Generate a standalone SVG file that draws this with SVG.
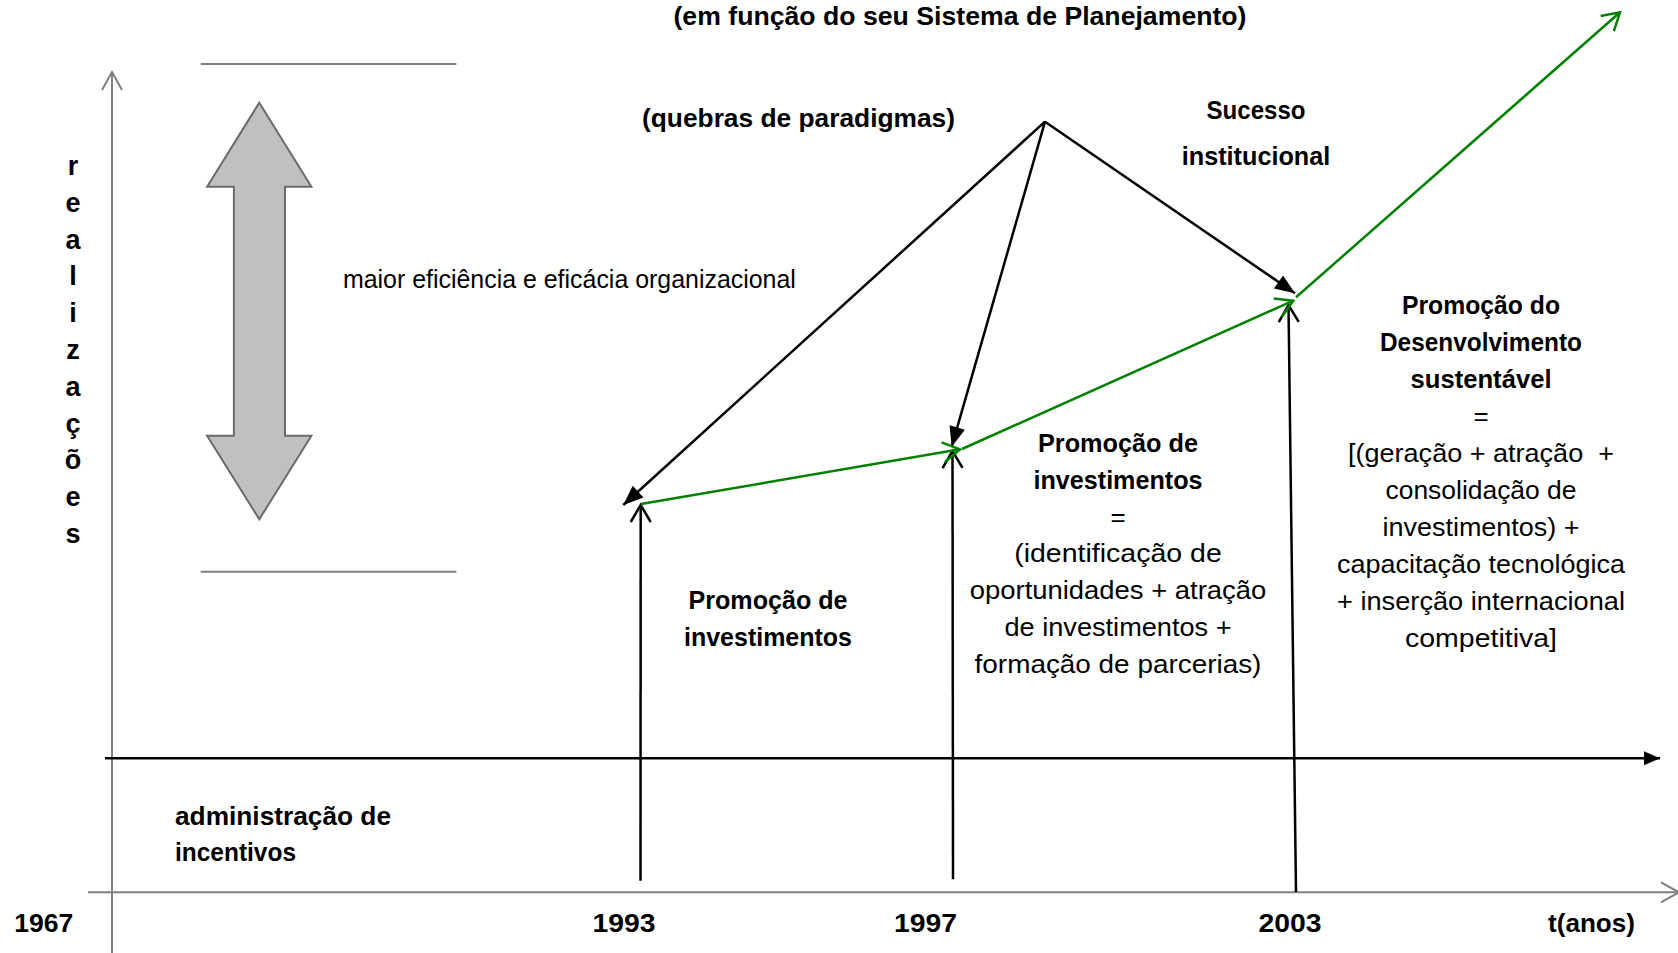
<svg xmlns="http://www.w3.org/2000/svg" width="1678" height="953" viewBox="0 0 1678 953">
<style>
text{font-family:"Liberation Sans",Arial,sans-serif;fill:#000}
.b{font-weight:bold;font-size:25px}
.r{font-size:26px}
.c{text-anchor:middle}
.v{font-weight:bold;font-size:27px;text-anchor:middle}
.gl{stroke:#7f7f7f;stroke-width:2;fill:none}
.bl{stroke:#000;stroke-width:2.5;fill:none}
.gr{stroke:#008000;stroke-width:2.5;fill:none}
</style>
<defs>
<marker id="fb" markerUnits="userSpaceOnUse" markerWidth="22" markerHeight="18" refX="20" refY="8" orient="auto" overflow="visible"><path d="M0,0 L20,8 L0,16 z" fill="#000"/></marker>
<marker id="fa" markerUnits="userSpaceOnUse" markerWidth="18" markerHeight="16" refX="16" refY="7" orient="auto" overflow="visible"><path d="M0,0 L16,7 L0,14 z" fill="#000"/></marker>
<marker id="ob" markerUnits="userSpaceOnUse" markerWidth="20" markerHeight="22" refX="17" refY="10" orient="auto" overflow="visible"><path d="M0,0 L17,10 L0,20" fill="none" stroke="#000" stroke-width="2.5"/></marker>
<marker id="og" markerUnits="userSpaceOnUse" markerWidth="20" markerHeight="22" refX="17" refY="10" orient="auto" overflow="visible"><path d="M0,0 L17,10 L0,20" fill="none" stroke="#008000" stroke-width="2.5"/></marker>
<marker id="oy" markerUnits="userSpaceOnUse" markerWidth="20" markerHeight="22" refX="18" refY="10" orient="auto" overflow="visible"><path d="M0,0 L18,10 L0,20" fill="none" stroke="#7f7f7f" stroke-width="2"/></marker>
</defs>
<rect width="1678" height="953" fill="#fff"/>

<g id="axes">
<line class="gl" x1="112" y1="953" x2="112" y2="72" marker-end="url(#oy)"/>
<line class="gl" x1="88" y1="892.3" x2="1679" y2="892.3" marker-end="url(#oy)"/>
<line class="bl" x1="105" y1="758.3" x2="1660" y2="758.3" marker-end="url(#fa)"/>
</g>

<g id="eficiencia">
<line class="gl" x1="200.7" y1="64" x2="456.4" y2="64"/>
<line class="gl" x1="200.7" y1="571.7" x2="456.4" y2="571.7"/>
<polygon points="259.3,102.7 311.4,186.7 285,186.7 285,435.7 311.4,435.7 259.3,519.3 207.1,435.7 233.9,435.7 233.9,186.7 207.1,186.7" fill="#c0c0c0" stroke="#6b6b6b" stroke-width="2"/>
<text class="r" x="342.9" y="288" font-size="23" textLength="453" lengthAdjust="spacingAndGlyphs">maior eficiência e eficácia organizacional</text>
</g>

<g id="eixo-realizacoes">
<text class="v" x="73" y="175">r</text>
<text class="v" x="73" y="211.8">e</text>
<text class="v" x="73" y="248.6">a</text>
<text class="v" x="73" y="285.4">l</text>
<text class="v" x="73" y="322.2">i</text>
<text class="v" x="73" y="359">z</text>
<text class="v" x="73" y="395.8">a</text>
<text class="v" x="73" y="432.6">ç</text>
<text class="v" x="73" y="469.4">õ</text>
<text class="v" x="73" y="506.2">e</text>
<text class="v" x="73" y="543">s</text>
</g>

<g id="connectors">
<line class="bl" x1="1045" y1="121.7" x2="623.3" y2="505" marker-end="url(#fb)"/>
<line class="bl" x1="1045" y1="121.7" x2="951.7" y2="446.7" marker-end="url(#fb)"/>
<line class="bl" x1="1045" y1="121.7" x2="1295" y2="293.3" marker-end="url(#fb)"/>
<line class="bl" x1="640.5" y1="880.7" x2="640.7" y2="505" marker-end="url(#ob)"/>
<line class="bl" x1="953" y1="879.3" x2="952.5" y2="451" marker-end="url(#ob)"/>
<line class="bl" x1="1296" y1="892" x2="1288.5" y2="305" marker-end="url(#ob)"/>
<line class="gr" x1="641" y1="504" x2="960" y2="449.3" marker-end="url(#og)"/>
<line class="gr" x1="962" y1="449" x2="1293.3" y2="300.7" marker-end="url(#og)"/>
<line class="gr" x1="1296" y1="297.3" x2="1620" y2="12.3" marker-end="url(#og)"/>
</g>

<g id="titulo">
<text class="b c" x="960" y="25" font-size="26" textLength="573" lengthAdjust="spacingAndGlyphs">(em função do seu Sistema de Planejamento)</text>
</g>

<g id="quebras">
<text class="b c" x="798.5" y="126.5" font-size="26" textLength="313" lengthAdjust="spacingAndGlyphs">(quebras de paradigmas)</text>
</g>

<g id="sucesso">
<text class="b c" x="1256" y="119" textLength="99" lengthAdjust="spacingAndGlyphs">Sucesso</text>
<text class="b c" x="1256" y="165" textLength="148.5" lengthAdjust="spacingAndGlyphs">institucional</text>
</g>

<g id="promocao-1993">
<text class="b c" x="768" y="608.5" textLength="159" lengthAdjust="spacingAndGlyphs">Promoção de</text>
<text class="b c" x="768" y="645.5" textLength="168" lengthAdjust="spacingAndGlyphs">investimentos</text>
</g>

<g id="promocao-1997">
<text class="b c" x="1118" y="452" textLength="160" lengthAdjust="spacingAndGlyphs">Promoção de</text>
<text class="b c" x="1118" y="488.8" textLength="169" lengthAdjust="spacingAndGlyphs">investimentos</text>
<text class="r c" x="1118" y="525.6">=</text>
<text class="r c" x="1118" y="562.4" textLength="207.6" lengthAdjust="spacingAndGlyphs">(identificação de</text>
<text class="r c" x="1118" y="599.2" textLength="296.4" lengthAdjust="spacingAndGlyphs">oportunidades + atração</text>
<text class="r c" x="1118" y="636" textLength="227" lengthAdjust="spacingAndGlyphs">de investimentos +</text>
<text class="r c" x="1118" y="672.8" textLength="286.8" lengthAdjust="spacingAndGlyphs">formação de parcerias)</text>
</g>

<g id="promocao-2003">
<text class="b c" x="1481" y="313.5" textLength="158" lengthAdjust="spacingAndGlyphs">Promoção do</text>
<text class="b c" x="1481" y="350.5" textLength="202" lengthAdjust="spacingAndGlyphs">Desenvolvimento</text>
<text class="b c" x="1481" y="387.5" textLength="141" lengthAdjust="spacingAndGlyphs">sustentável</text>
<text class="r c" x="1481" y="424.5">=</text>
<text class="r c" x="1481" y="461.5" textLength="266" lengthAdjust="spacingAndGlyphs" xml:space="preserve">[(geração + atração  +</text>
<text class="r c" x="1481" y="498.5" textLength="191" lengthAdjust="spacingAndGlyphs">consolidação de</text>
<text class="r c" x="1481" y="535.5" textLength="197" lengthAdjust="spacingAndGlyphs">investimentos) +</text>
<text class="r c" x="1481" y="572.5" textLength="288" lengthAdjust="spacingAndGlyphs">capacitação tecnológica</text>
<text class="r c" x="1481" y="609.5" textLength="288" lengthAdjust="spacingAndGlyphs">+ inserção internacional</text>
<text class="r c" x="1481" y="646.5" textLength="152" lengthAdjust="spacingAndGlyphs">competitiva]</text>
</g>

<g id="administracao">
<text class="b" x="175" y="825" textLength="216" lengthAdjust="spacingAndGlyphs">administração de</text>
<text class="b" x="175" y="861" textLength="121" lengthAdjust="spacingAndGlyphs">incentivos</text>
</g>

<g id="anos">
<text class="b" x="14.3" y="932" textLength="59" lengthAdjust="spacingAndGlyphs">1967</text>
<text class="b c" x="624" y="932" textLength="63" lengthAdjust="spacingAndGlyphs">1993</text>
<text class="b c" x="925.5" y="932" textLength="63" lengthAdjust="spacingAndGlyphs">1997</text>
<text class="b c" x="1290" y="932" textLength="63" lengthAdjust="spacingAndGlyphs">2003</text>
<text class="b" x="1548" y="932" textLength="87" lengthAdjust="spacingAndGlyphs">t(anos)</text>
</g>
</svg>
